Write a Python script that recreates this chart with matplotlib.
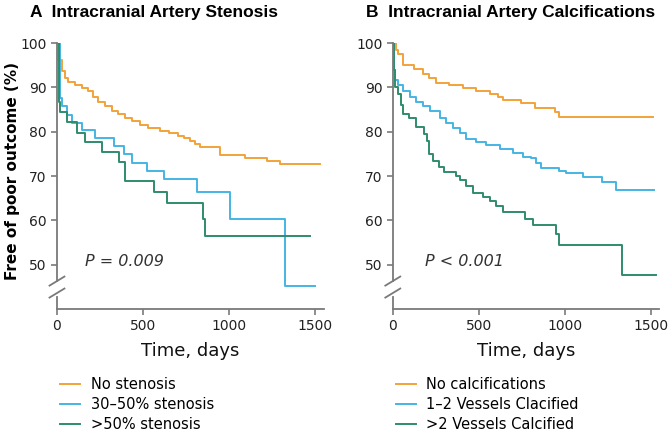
import matplotlib
matplotlib.use("Agg")
import matplotlib.pyplot as plt

# Panel A - stenosis (days, % free of poor outcome), step values
a_none_t = [0, 8, 27, 47, 66, 105, 143, 182, 211, 240, 279, 318, 356, 395, 434, 482, 531, 600, 650, 700, 740,
            773, 802, 831, 948, 1093, 1219, 1297, 1529]
a_none_v = [100, 96.2, 93.6, 92.1, 91.3, 90.6, 89.8, 89.1, 87.9, 86.8, 85.7, 84.7, 84.0, 83.1, 82.5, 81.6, 80.8,
            80.2, 79.6, 79.0, 78.5, 78.0, 77.2, 76.5, 74.7, 74.1, 73.5, 72.6, 72.6]
a_mid_t = [0, 15, 29, 58, 87, 145, 223, 329, 387, 435, 522, 619, 813, 1002, 1325, 1500]
a_mid_v = [100, 87.5, 85.8, 83.7, 82, 80.3, 78.5, 76.7, 74.9, 73, 71.2, 69.4, 66.4, 60.4, 45.3, 45.3]
a_hi_t = [0, 10, 19, 58, 116, 164, 261, 358, 397, 561, 639, 848, 857, 1471]
a_hi_v = [100, 86.8, 84.5, 82.2, 79.8, 77.6, 75.4, 73.2, 68.8, 66.5, 63.9, 60.2, 56.5, 56.5]

# Panel B - calcifications
b_none_t = [0, 19, 29, 58, 126, 174, 213, 252, 329, 407, 485, 562, 610, 640, 746, 824, 940, 965, 1512]
b_none_v = [100, 98.5, 97.5, 95, 94.2, 93, 92, 91, 90.5, 89.8, 89.2, 88.5, 87.8, 87.2, 86.4, 85.4, 84.5, 83.4, 83.4]
b_mid_t = [0, 5, 12, 31, 60, 98, 137, 176, 214, 272, 311, 349, 388, 427, 485, 543, 620, 697, 755, 803, 832, 861,
           967, 1006, 1102, 1218, 1295, 1517]
b_mid_v = [100, 94, 91.7, 90.6, 89.1, 87.9, 86.8, 85.7, 84.6, 83.1, 82.0, 80.8, 79.6, 78.4, 77.6, 76.9, 76.1,
           75.2, 74.4, 74.1, 73.0, 71.8, 71.2, 70.7, 69.8, 68.7, 66.8, 66.8]
b_hi_t = [0, 5, 15, 29, 48, 62, 97, 136, 184, 198, 213, 233, 271, 300, 368, 388, 426, 465, 523, 562, 601, 640,
          765, 814, 950, 965, 1333, 1531]
b_hi_v = [100, 94, 90, 88.5, 86, 84, 83.2, 81, 79.5, 78, 75, 73.5, 72, 71, 70, 69, 67.8, 66.2, 65.3, 64.4, 63.2,
          61.9, 60.4, 58.9, 56.9, 54.5, 47.6, 47.6]

orange = "#F2A33A"
blue = "#45B4E3"
green = "#2F8C6C"
axis_gray = "#7a7a7a"

panels = [
    ("A  Intracranial Artery Stenosis", "P = 0.009", 165,
     [(a_none_t, a_none_v, orange, "No stenosis"),
      (a_mid_t, a_mid_v, blue, "30\u201350% stenosis"),
      (a_hi_t, a_hi_v, green, ">50% stenosis")]),
    ("B  Intracranial Artery Calcifications", "P < 0.001", 188,
     [(b_none_t, b_none_v, orange, "No calcifications"),
      (b_mid_t, b_mid_v, blue, "1\u20132 Vessels Clacified"),
      (b_hi_t, b_hi_v, green, ">2 Vessels Calcified")]),
]

plt.rcParams['font.family'] = ['DejaVu Sans']
fig = plt.figure(figsize=(6.68, 4.32), dpi=100)
ax_left = [0.0853, 0.588]

for i, (title, ptext, px, series) in enumerate(panels):
    ax = fig.add_axes([ax_left[i], 0.2847, 0.399, 0.6157])
    for t, v, c, lab in series:
        ax.step(t, v, where='post', color=c, lw=1.4, label=lab)
    ax.set_xlim(0, 1548)
    ax.set_ylim(40, 100)
    ax.set_xticks([0, 500, 1000, 1500])
    ax.set_yticks([50, 60, 70, 80, 90, 100])
    for s in ["top", "right", "left"]:
        ax.spines[s].set_visible(False)
    ax.spines["bottom"].set_color(axis_gray)
    ax.spines["bottom"].set_linewidth(1.3)
    ax.tick_params(colors=axis_gray, labelcolor="#222222", labelsize=10, length=4, width=1.2)
    # broken y axis
    kw = dict(transform=ax.transAxes, color=axis_gray, lw=1.3, clip_on=False)
    ax.plot([0, 0], [0.105, 1.0], **kw)
    ax.plot([0, 0], [0, 0.045], **kw)
    ax.plot([-0.028, 0.028], [0.088, 0.122], **kw)
    ax.plot([-0.028, 0.028], [0.043, 0.077], **kw)
    ax.text(px, 50.7, ptext, style='italic', fontsize=11.5, color="#333333", va='center')
    ax.set_xlabel("Time, days", fontsize=13, color="#111111", labelpad=6)
    fig.text(ax_left[i] - 0.04, 0.972, title, fontsize=12.5, fontweight='bold',
             family='Liberation Sans', va='center', ha='left')
    ax.legend(loc='upper left', bbox_to_anchor=(-0.011, -0.235), frameon=False,
              fontsize=10.5, handlelength=1.4, labelspacing=0.33, handletextpad=0.7,
              borderpad=0.4, borderaxespad=0)

fig.text(0.018, 0.604, "Free of poor outcome (%)", rotation=90, fontsize=11, fontweight='bold',
         va='center', ha='center')

fig.savefig("out.png", dpi=100)
